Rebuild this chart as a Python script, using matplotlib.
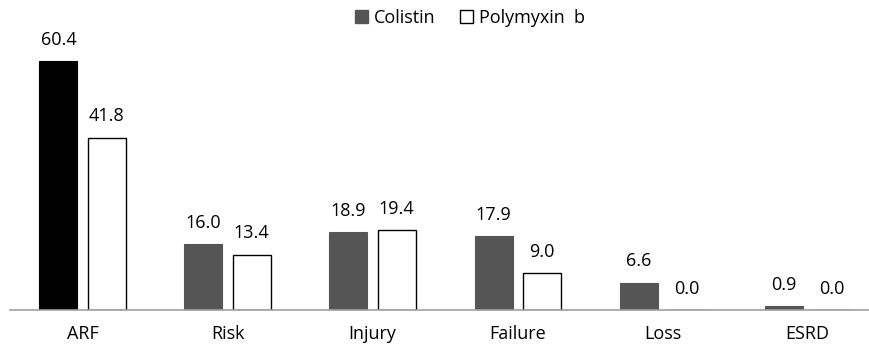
import numpy as np
import matplotlib.pyplot as plt
from matplotlib.patches import Patch

plt.rcParams['font.family'] = ['Open Sans', 'DejaVu Sans']

categories = ['ARF', 'Risk', 'Injury', 'Failure', 'Loss', 'ESRD']
colistin = [60.4, 16.0, 18.9, 17.9, 6.6, 0.9]
polymyxin = [41.8, 13.4, 19.4, 9.0, 0.0, 0.0]

fig = plt.figure(figsize=(8.7, 3.48), dpi=100)
ax = fig.add_axes([10 / 870, 38 / 348, 1 - 10 / 870, 0.8295])

x = np.arange(len(categories))
w = 0.262
off = 0.166

col_colors = ['#000000'] + ['#555555'] * (len(categories) - 1)
ax.bar(x - off, colistin, w, color=col_colors, edgecolor=col_colors, linewidth=0.8)
ax.bar(x + off, polymyxin, w, color='white', edgecolor='black', linewidth=1.0)

fs = 13
for xi, v in zip(x - off, colistin):
    ax.text(xi, v + 3.0, f'{v:.1f}', ha='center', va='bottom', fontsize=fs)
for xi, v in zip(x + off, polymyxin):
    ax.text(xi, v + 3.0, f'{v:.1f}', ha='center', va='bottom', fontsize=fs)

ax.set_xlim(-0.5, 5.43)
ax.set_ylim(0, 70)
ax.set_xticks(x)
ax.set_xticklabels(categories, fontsize=fs)
ax.tick_params(axis='x', length=0, pad=11)
ax.set_yticks([])
for s in ['top', 'right', 'left']:
    ax.spines[s].set_visible(False)
ax.spines['bottom'].set_color('#a0a0a0')
ax.spines['bottom'].set_linewidth(1.2)

handles = [Patch(facecolor='#555555', edgecolor='#555555'),
           Patch(facecolor='white', edgecolor='black')]
fig.legend(handles, ['Colistin', 'Polymyxin  b'], loc='center', bbox_to_anchor=(470 / 870, 1 - 18 / 348),
           ncol=2, frameon=False, fontsize=fs, handlelength=0.7, handleheight=0.7,
           handletextpad=0.3, columnspacing=1.4)

fig.savefig('out.png', dpi=100)
